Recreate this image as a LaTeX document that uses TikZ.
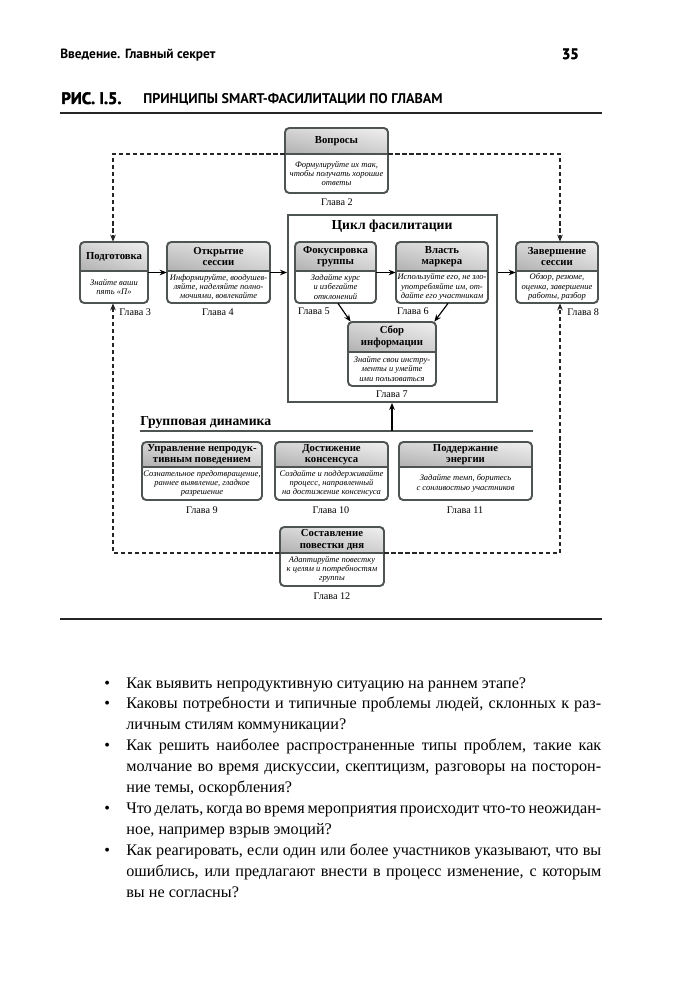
\documentclass[tikz,border=0pt]{standalone}
\usepackage{fontspec}
\setmainfont{Liberation Serif}
\newfontfamily\hsans{PT Sans}
\newfontfamily\hblack[FakeBold=2.5]{PT Sans}
\usetikzlibrary{calc,fit,arrows.meta,shadings}
\definecolor{bx}{RGB}{78,84,84}
\tikzset{
  boxline/.style={draw=bx, line width=1.1pt},
  hdr/.style={font=\bfseries\fontsize{6.1}{6.5}\selectfont, align=center, inner sep=0},
  bdy/.style={font=\itshape\fontsize{4.85}{5.3}\selectfont, align=center, inner sep=0},
  gl/.style={font=\fontsize{5.8}{6}\selectfont, inner sep=0},
  ttl/.style={font=\bfseries\fontsize{7.8}{8}\selectfont, inner sep=0},
  arr/.style={-{Stealth[length=4pt,width=3.2pt]}, line width=0.65pt, black},
  dsh/.style={dash pattern=on 2.4pt off 1.6pt, line width=0.9pt, black!85, -{Stealth[length=4pt,width=3.2pt]}},
  bt/.style={font=\fontsize{9.2}{11}\selectfont, inner sep=0},
}
\newcommand\fbx[8]{%
  \begin{scope}
    \clip[rounded corners=2.4pt] (#2,#3) rectangle (#4,#6);
    \shade[upper left=gray!32, upper right=gray!12, lower left=gray!62, lower right=gray!38] (#2,#3) rectangle (#4,#5);
  \end{scope}
  \draw[boxline, rounded corners=2.4pt] (#2,#3) rectangle (#4,#6);
  \draw[boxline] (#2,#5) -- (#4,#5);
  \node[hdr] at ($(#2,#3)!0.5!(#4,#5)$) {#7};
  \node[bdy] at ($(#2,#5)!0.5!(#4,#6)$) {#8};
  \node[fit={(#2,#3) (#4,#6)}, inner sep=0] (#1) {};
}
\newcommand\jline[3]{\node[bt, anchor=base west] (#1) at (126,#2) {\makebox[9.5cm][s]{#3}};}
\newcommand\lline[3]{\node[bt, anchor=base west] (#1) at (126,#2) {#3};}
\newcommand\bdot[2]{\node[bt, anchor=base west] (#1) at (104,#2) {•};}
\begin{document}
\begin{tikzpicture}[x=0.02cm,y=-0.02cm]
\fill[white] (0,0) rectangle (693,1000);
\useasboundingbox (0,0) rectangle (693,1000);
% page header
\node[anchor=base west, font=\hsans\bfseries\fontsize{7.6}{8}\selectfont, inner sep=0] (hl) at (60,59) {Введение. Главный секрет};
\node[anchor=base east, font=\hblack\bfseries\fontsize{8.4}{9}\selectfont, inner sep=0] (hn) at (579,59) {35};
\node[anchor=base west, font=\hblack\bfseries\fontsize{9.4}{10}\selectfont, inner sep=0] (fig) at (61,104) {РИС. I.5.};
\node[anchor=base west, font=\hsans\bfseries\fontsize{8}{9}\selectfont, inner sep=0] (ftl) at (143,104) {ПРИНЦИПЫ SMART-ФАСИЛИТАЦИИ ПО ГЛАВАМ};
\coordinate (r1a) at (60,113); \coordinate (r1b) at (602,113);
\draw[line width=0.8pt, black!85] (r1a) -- (r1b);
% cycle frame
\node[fit={(288,215) (497,402)}, draw=bx, line width=1.1pt, inner sep=0] (cyc) {};
\node[ttl] (cyct) at (392,226) {Цикл фасилитации};
% boxes
\fbx{vop}{285}{128}{388}{154}{193}{Вопросы}{Формулируйте их так,\\чтобы получать хорошие\\ответы}
\fbx{pod}{80}{242}{148}{271}{303}{Подготовка}{Знайте ваши\\пять «П»}
\fbx{otk}{167}{242}{270}{271}{303}{Открытие\\сессии}{Информируйте, воодушев-\\ляйте, наделяйте полно-\\мочиями, вовлекайте}
\fbx{fok}{295}{242}{376}{271}{303}{Фокусировка\\группы}{Задайте курс\\и избегайте\\отклонений}
\fbx{vla}{396}{242}{488}{271}{303}{Власть\\маркера}{Используйте его, не зло-\\употребляйте им, от-\\дайте его участникам}
\fbx{sbo}{348}{322}{436}{352}{386}{Сбор\\информации}{Знайте свои инстру-\\менты и умейте\\ими пользоваться}
\fbx{zav}{516}{242}{598}{271}{303}{Завершение\\сессии}{Обзор, резюме,\\оценка, завершение\\работы, разбор}
\fbx{upr}{142}{442}{262}{467}{500}{Управление непродук-\\тивным поведением}{Сознательное предотвращение,\\раннее выявление, гладкое\\разрешение}
\fbx{dos}{275}{442}{388}{467}{500}{Достижение\\консенсуса}{Создайте и поддерживайте\\процесс, направленный\\на достижение консенсуса}
\fbx{pdd}{399}{442}{532}{467}{500}{Поддержание\\энергии}{Задайте темп, боритесь\\с сонливостью участников}
\fbx{sos}{280}{527}{384}{553}{586}{Составление\\повестки дня}{Адаптируйте повестку\\к целям и потребностям\\группы}
% group dynamics
\node[ttl, anchor=base west] (grt) at (140,425) {Групповая динамика};
\coordinate (gla) at (140,431); \coordinate (glb) at (533,431); \coordinate (glm) at (392,431);
\draw[line width=1.7pt, bx] (gla) -- (glb);
\draw[arr] (glm) -- (glm |- cyc.south);
% solid arrows
\draw[arr] (pod.east) -- (otk.west);
\draw[arr] (otk.east) -- (cyc.west |- otk.east);
\draw[arr] (fok.east) -- (vla.west);
\draw[arr] (cyc.east |- zav.west) -- (zav.west);
\draw[arr] ($(fok.south west)!0.53!(fok.south east)$) -- ($(sbo.north west)+(3,0)$);
\draw[arr] ($(vla.south west)!0.565!(vla.south east)$) -- ($(sbo.north east)+(-2,0)$);
% dashed loops
\coordinate (dtl) at (113,154); \coordinate (dtr) at (560,154);
\coordinate (dbl) at (113,553); \coordinate (dbr) at (560,553);
\draw[dsh] (vop.west |- dtl) -- (dtl) -- (pod.north -| dtl);
\draw[dsh] (vop.east |- dtr) -- (dtr) -- (zav.north -| dtr);
\draw[dsh] (sos.west |- dbl) -- (dbl) -- (pod.south -| dbl);
\draw[dsh] (sos.east |- dbr) -- (dbr) -- (zav.south -| dbr);
% chapter labels
\node[gl] (g2) at (337,202) {Глава 2};
\node[gl, anchor=west] (g3) at (119,312) {Глава 3};
\node[gl] (g4) at (218,312) {Глава 4};
\node[gl] (g5) at (314,311) {Глава 5};
\node[gl] (g6) at (413,311) {Глава 6};
\node[gl] (g7) at (392,394) {Глава 7};
\node[gl, anchor=west] (g8) at (567,312) {Глава 8};
\node[gl] (g9) at (202,510) {Глава 9};
\node[gl] (g10) at (331,510) {Глава 10};
\node[gl] (g11) at (465,510) {Глава 11};
\node[gl] (g12) at (332,596) {Глава 12};
% bottom rule
\coordinate (r2a) at (60,619); \coordinate (r2b) at (602,619);
\draw[line width=0.8pt, black!85] (r2a) -- (r2b);
% bullets
\bdot{d1}{688}
\lline{l1}{688}{Как выявить непродуктивную ситуацию на раннем этапе?}
\bdot{d2}{708.9}
\jline{l2}{708.9}{Каковы потребности и типичные проблемы людей, склонных к раз-}
\lline{l3}{729.8}{личным стилям коммуникации?}
\bdot{d3}{750.7}
\jline{l4}{750.7}{Как решить наиболее распространенные типы проблем, такие как}
\jline{l5}{771.6}{молчание во время дискуссии, скептицизм, разговоры на посторон-}
\lline{l6}{792.5}{ние темы, оскорбления?}
\bdot{d4}{813.4}
\jline{l7}{813.4}{Что делать, когда во время мероприятия происходит что-то неожидан-}
\lline{l8}{834.3}{ное, например взрыв эмоций?}
\bdot{d5}{855.2}
\jline{l9}{855.2}{Как реагировать, если один или более участников указывают, что вы}
\jline{l10}{876.1}{ошиблись, или предлагают внести в процесс изменение, с которым}
\lline{l11}{897}{вы не согласны?}
\end{tikzpicture}
\end{document}
